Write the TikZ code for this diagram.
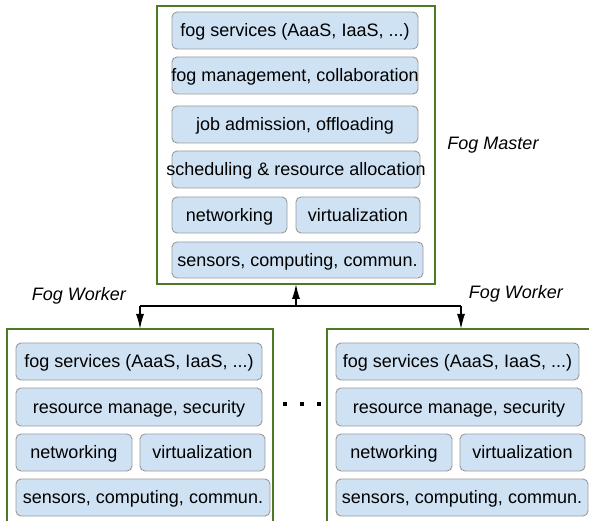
\documentclass[tikz,border=0pt]{standalone}
\usepackage{fontspec}
\setmainfont{Liberation Sans}
\usetikzlibrary{arrows.meta}
\definecolor{boxfill}{HTML}{CFE2F3}
\definecolor{boxline}{HTML}{9A9A9A}
\definecolor{outergreen}{HTML}{4E7A26}
\tikzset{
  layer/.style={draw=boxline, fill=boxfill, rounded corners=5pt, line width=0.9pt},
  lbl/.style={font=\fontsize{18}{20}\selectfont, inner sep=0pt, text height=12.9pt, text depth=0pt, text=black},
  outer/.style={draw=outergreen, line width=1.4pt},
  role/.style={font=\fontsize{18}{20}\selectfont\itshape, inner sep=0pt},
  conn/.style={line width=1.3pt, -{Latex[length=15pt,width=8pt]}},
  seg/.style={line width=1.3pt}
}
\newcommand{\layerbox}[6]{%
  \draw[layer] (#1,#2) rectangle (#3,#4);
  \node[lbl] (#6) at ({(#1+#3)/2},{(#2+#4)/2}) {#5};}
\begin{document}
\begin{tikzpicture}[x=1pt,y=-1pt]
\useasboundingbox (0,0) rectangle (589,521);
\clip (0,0) rectangle (589,521);
\fill[white] (0,0) rectangle (589,521);
% Master
\draw[outer] (157,6) rectangle (435,284);
\coordinate (mb) at (296,284);
\layerbox{172}{12}{418}{49}{fog services (AaaS, IaaS, ...)}{m1}
\layerbox{172}{57}{418}{94}{fog management, collaboration}{m2}
\layerbox{172}{106}{418}{143}{job admission, offloading}{m3}
\layerbox{172}{151}{420}{188}{scheduling \& resource allocation}{m4}
\layerbox{172}{197}{287}{233}{networking}{m5}
\layerbox{296}{197}{420}{233}{virtualization}{m6}
\layerbox{172}{242}{423}{278}{sensors, computing, commun.}{m7}
\node[role] (fm) at (493,145) {Fog Master};
% Left worker
\draw[outer] (7,329) rectangle (273,540);
\coordinate (lt) at (140,329);
\layerbox{16}{343}{262}{380}{fog services (AaaS, IaaS, ...)}{a1}
\layerbox{16}{388}{262}{426}{resource manage, security}{a2}
\layerbox{16}{434}{132}{471}{networking}{a3}
\layerbox{140}{434}{265}{471}{virtualization}{a4}
\layerbox{16}{479}{270}{516}{sensors, computing, commun.}{a5}
\node[role] (fw1) at (79,296) {Fog Worker};
% Right worker
\draw[outer] (327,329) rectangle (610,540);
\coordinate (rt) at (461,329);
\layerbox{336}{343}{579}{380}{fog services (AaaS, IaaS, ...)}{b1}
\layerbox{336}{388}{582}{426}{resource manage, security}{b2}
\layerbox{336}{434}{452}{471}{networking}{b3}
\layerbox{460}{434}{585}{471}{virtualization}{b4}
\layerbox{336}{479}{588}{516}{sensors, computing, commun.}{b5}
\node[role] (fw2) at (516,294) {Fog Worker};
% connectors
\coordinate (j) at (296,306);
\coordinate (jl) at (140,306);
\coordinate (jr) at (461,306);
\draw[conn] (j) -- (mb);
\draw[conn] (jl) -- (lt);
\draw[conn] (jr) -- (rt);
\draw[seg] (jl) -- (jr);
% dots
\foreach \x/\n in {285/d1,302/d2,319/d3}{
  \fill (\x-2,402) rectangle (\x+2,406);
  \coordinate (\n) at (\x,404);
}
\end{tikzpicture}
\end{document}
